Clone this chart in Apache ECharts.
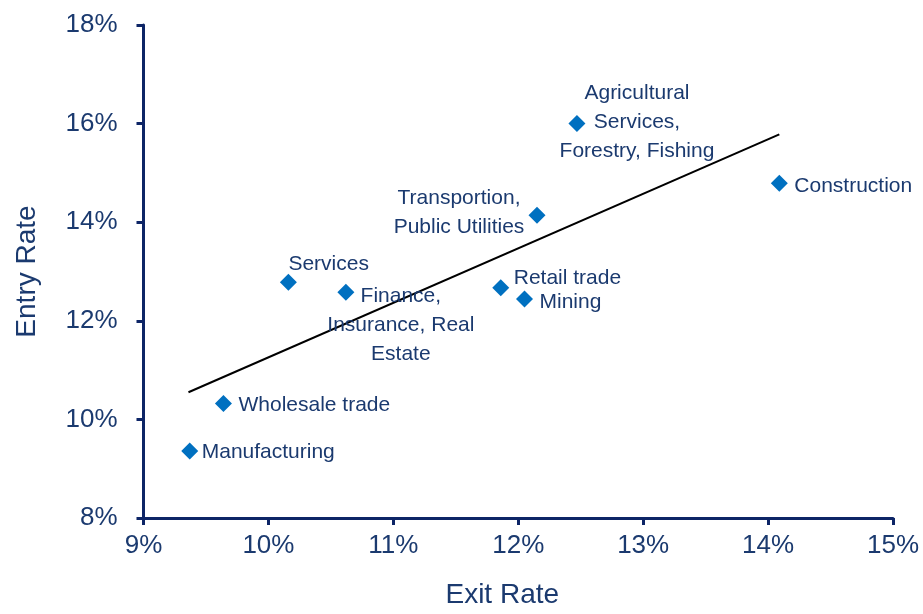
<!DOCTYPE html>
<html>
<head>
<meta charset="utf-8">
<script src="https://cdn.jsdelivr.net/npm/echarts@6/dist/echarts.min.js"></script>
<style>html,body{margin:0;padding:0;background:#fff}#c{width:923px;height:614px}</style>
</head>
<body>
<div id="c"></div>
<script>
// Data (percent)
const industries = ["Manufacturing","Wholesale trade","Services","Finance, Insurance, Real Estate","Retail trade","Mining","Transportion, Public Utilities","Agricultural Services, Forestry, Fishing","Construction"];
const labelTexts = ["Manufacturing","Wholesale trade","Services","Finance,\nInsurance, Real\nEstate","Retail trade","Mining","Transportion,\nPublic Utilities","Agricultural\nServices,\nForestry, Fishing","Construction"];
const exitRate  = [9.37, 9.64, 10.16, 10.62, 11.86, 12.05, 12.15, 12.47, 14.09];
const entryRate = [9.36, 10.32, 12.78, 12.58, 12.67, 12.44, 14.14, 16.00, 14.79];
const trendX = [9.36, 14.09];
const trendY = [10.55, 15.78];
const xTicks = [9, 10, 11, 12, 13, 14, 15];
const yTicks = [8, 10, 12, 14, 16, 18];

// label placement styles (not data)
const labelStyle = [
  {align:'left', offset:[12,1]},
  {align:'left', offset:[15,2]},
  {align:'left', offset:[0,-18]},
  {align:'center', offset:[55,33]},
  {align:'left', offset:[13,-10]},
  {align:'left', offset:[15,3]},
  {align:'center', offset:[-78,-3]},
  {align:'center', offset:[60,-1]},
  {align:'left', offset:[15,3]}
];

const navy = '#0d2566';
const textColor = '#1b3a6f';
const font = 'Liberation Sans, Arial, sans-serif';

const scatterData = industries.map((n,i)=>({
  name:n, value:[exitRate[i], entryRate[i]],
  label:{show:true, position:'inside', formatter:labelTexts[i], align:labelStyle[i].align,
         verticalAlign:'middle', offset:labelStyle[i].offset, color:textColor, opacity:1,
         fontSize:21, fontFamily:font, lineHeight:29, textBorderWidth:0}
}));

const chart = echarts.init(document.getElementById('c'));
chart.setOption({
  animation:false,
  grid:{left:143.5, right:30, top:25, bottom:94, containLabel:false},
  xAxis:{type:'value', min:xTicks[0], max:xTicks[xTicks.length-1], interval:1,
    name:'Exit Rate', nameLocation:'middle', nameGap:63,
    nameTextStyle:{color:textColor, fontSize:28, fontFamily:font, padding:[0,32,0,0]},
    axisLine:{show:true, lineStyle:{color:navy, width:3}},
    axisTick:{show:true, length:7, lineStyle:{color:navy, width:3}},
    axisLabel:{formatter:'{value}%', color:textColor, fontSize:26, fontFamily:font, margin:15},
    splitLine:{show:false}},
  yAxis:{type:'value', min:yTicks[0], max:yTicks[yTicks.length-1], interval:2,
    name:'Entry Rate', nameLocation:'middle', nameGap:102,
    nameTextStyle:{color:textColor, fontSize:28, fontFamily:font},
    axisLine:{show:true, lineStyle:{color:navy, width:3}},
    axisTick:{show:true, length:7, lineStyle:{color:navy, width:3}},
    axisLabel:{formatter:'{value}%', color:textColor, fontSize:26, fontFamily:font, margin:26},
    splitLine:{show:false}},
  series:[
    {type:'line', data:trendX.map((x,i)=>[x,trendY[i]]), symbol:'none', silent:true,
     lineStyle:{color:'#000', width:2}, z:1},
    {type:'scatter', data:scatterData, symbol:'diamond', symbolSize:[17,17],
     itemStyle:{color:'#0070c0', opacity:1}, z:3}
  ]
});
</script>
</body>
</html>
